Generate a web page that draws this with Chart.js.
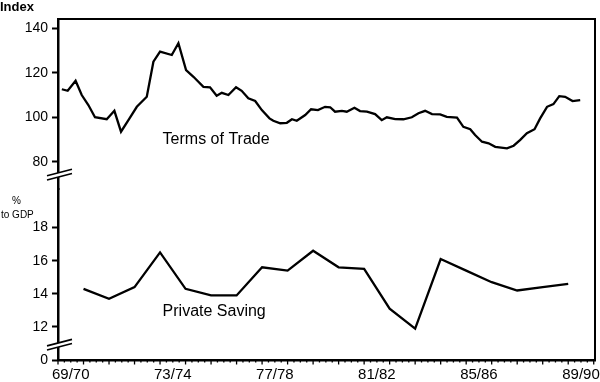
<!DOCTYPE html>
<html><head><meta charset="utf-8">
<script src="https://cdn.jsdelivr.net/npm/chart.js@4/dist/chart.umd.min.js"></script>
<style>html,body{margin:0;padding:0;background:#fff}canvas{display:block}</style>
</head><body>
<canvas id="c" width="600" height="382"></canvas>
<script>
// Terms of Trade (index), quarterly, decimal-year positions
const totDates = [1969.65,1969.88,1970.19,1970.43,1970.69,1970.95,1971.41,1971.71,1971.97,1972.26,
  1972.59,1972.98,1973.24,1973.50,1973.96,1974.22,1974.52,1974.81,1975.20,1975.46,
  1975.72,1975.92,1976.18,1976.48,1976.70,1976.96,1977.23,1977.49,1977.79,1977.94,
  1978.21,1978.47,1978.67,1978.86,1979.19,1979.42,1979.69,1979.97,1980.17,1980.36,
  1980.63,1980.82,1981.12,1981.34,1981.61,1981.93,1982.19,1982.39,1982.72,1983.04,
  1983.37,1983.63,1983.89,1984.16,1984.48,1984.74,1985.14,1985.39,1985.66,1985.85,
  1986.12,1986.38,1986.64,1987.10,1987.36,1987.62,1987.88,1988.18,1988.40,1988.67,
  1988.92,1989.15,1989.38,1989.67,1989.97];
const totValues = [112.6,111.9,116.4,110,105.5,100,99.1,102.9,93.5,98.7,
  104.7,109.2,125,129.5,128,133.3,121.2,118.2,113.7,113.5,
  109.7,111,110,113.5,111.9,108.5,107.3,103.2,99.5,98.4,
  97.3,97.5,99.1,98.4,101,103.6,103.2,104.7,104.5,102.5,
  102.9,102.5,104.3,102.8,102.5,101.4,98.7,100,99.2,99.1,
  100,101.8,102.9,101.4,101.3,100.2,99.8,95.7,94.6,92,
  89,88.3,86.7,86,87.2,89.8,92.8,94.6,99.5,104.7,
  105.9,109.5,109.2,107.3,107.7];

// Private Saving (% to GDP), annual
const savingDates = [1970.5,1971.5,1972.5,1973.5,1974.5,1975.5,1976.5,1977.5,1978.5,1979.5,
  1980.5,1981.5,1982.5,1983.5,1984.5,1985.5,1986.5,1987.5,1988.5,1989.5];
const savingValues = [14.3,13.7,14.4,16.5,14.3,13.9,13.9,15.6,15.4,16.6,
  15.6,15.5,13.1,11.9,16.1,15.4,14.7,14.2,14.4,14.6];

// Axis ticks
const xTickValues = [1970,1974,1978,1982,1986,1990];
const xTickLabels = ['69/70','73/74','77/78','81/82','85/86','89/90'];
const indexTicks = [80,100,120,140];
const savingTicks = [10,12,14,16,18];
const savingTickLabels = ['0','12','14','16','18'];

const FONT = "'Liberation Sans', Arial, sans-serif";

const decor = {
  id: 'decor',
  afterDraw(chart) {
    const {ctx, chartArea: a, scales} = chart;
    const xs = scales.x;
    ctx.save();
    ctx.strokeStyle = '#000';
    ctx.lineCap = 'butt';
    // frame top and right
    ctx.lineWidth = 2;
    ctx.beginPath();
    ctx.moveTo(a.left, a.top); ctx.lineTo(a.right, a.top); ctx.lineTo(a.right, a.bottom + 1);
    ctx.stroke();
    // quarterly and yearly tick marks on the time axis
    ctx.lineWidth = 1.3;
    for (let q = 0; ; q++) {
      const v = xs.min + q * 0.25;
      if (v > xs.max + 1e-6) break;
      const px = xs.getPixelForValue(v);
      const len = (q % 4 === 0) ? 4.5 : 2.5;
      ctx.beginPath(); ctx.moveTo(px, a.bottom); ctx.lineTo(px, a.bottom + len); ctx.stroke();
    }
    // axis break marks
    const brk = (y0) => {
      const x = a.left, s = -0.26;
      const p = (X, off) => [X, y0 + off + s * (X - x)];
      ctx.fillStyle = '#fff';
      ctx.beginPath();
      ctx.moveTo(...p(x - 11, -2.1)); ctx.lineTo(...p(x + 14, -2.1));
      ctx.lineTo(...p(x + 14, 2.1)); ctx.lineTo(...p(x - 11, 2.1));
      ctx.closePath(); ctx.fill();
      ctx.lineWidth = 1.6;
      ctx.beginPath();
      ctx.moveTo(...p(x - 11, -2.1)); ctx.lineTo(...p(x + 14, -2.1));
      ctx.moveTo(...p(x - 11, 2.1)); ctx.lineTo(...p(x + 14, 2.1));
      ctx.stroke();
    };
    brk(scales.yTop.getPixelForValue(74));
    brk(scales.yBot.getPixelForValue(10.9));
    // texts
    ctx.fillStyle = '#000';
    ctx.textAlign = 'left';
    ctx.textBaseline = 'alphabetic';
    ctx.font = "bold 13px " + FONT;
    ctx.fillText('Index', 0, 11);
    ctx.font = "10px " + FONT;
    ctx.fillText('%', 12, 204);
    ctx.fillText('to GDP', 1, 218);
    ctx.font = "16px " + FONT;
    ctx.textBaseline = 'middle';
    ctx.fillText('Terms of Trade', xs.getPixelForValue(1973.6), scales.yTop.getPixelForValue(89.8));
    ctx.fillText('Private Saving', xs.getPixelForValue(1973.6), scales.yBot.getPixelForValue(12.9));
    ctx.restore();
  }
};

const yCommon = {
  position: 'left',
  stack: 'left',
  stackWeight: 1,
  grid: {drawOnChartArea: false, drawTicks: true, tickLength: 6, tickWidth: 2, tickColor: '#000'},
  border: {display: true, color: '#000', width: 2.5},
  afterFit: s => { s.width = 58; }
};

new Chart(document.getElementById('c'), {
  type: 'line',
  data: {
    datasets: [
      {label: 'Terms of Trade', yAxisID: 'yTop', data: totDates.map((d, i) => ({x: d, y: totValues[i]})),
       borderColor: '#000', borderWidth: 2.3, pointRadius: 0, tension: 0, fill: false},
      {label: 'Private Saving', yAxisID: 'yBot', data: savingDates.map((d, i) => ({x: d, y: savingValues[i]})),
       borderColor: '#000', borderWidth: 2.3, pointRadius: 0, tension: 0, fill: false}
    ]
  },
  options: {
    responsive: false,
    animation: false,
    events: [],
    layout: {padding: {left: 0, top: 19, right: 5, bottom: 0}},
    plugins: {legend: {display: false}, tooltip: {enabled: false}},
    scales: {
      x: {
        type: 'linear', min: 1969.5, max: 1990.55,
        grid: {display: false, drawTicks: false},
        border: {display: true, color: '#000', width: 2.5},
        afterBuildTicks: s => { s.ticks = xTickValues.map(v => ({value: v})); },
        ticks: {
          color: '#000', font: {family: FONT, size: 15}, padding: 6, maxRotation: 0, autoSkip: false,
          callback: (v, i) => xTickLabels[i]
        },
        afterFit: s => { s.height = 22; s.paddingLeft = 0; s.paddingRight = 0; }
      },
      yBot: Object.assign({}, yCommon, {
        min: 10, max: 20.3,
        afterBuildTicks: s => { s.ticks = savingTicks.map(v => ({value: v})); },
        ticks: {color: '#000', font: {family: FONT, size: 14}, padding: 4, autoSkip: false,
          callback: (v, i) => savingTickLabels[i]}
      }),
      yTop: Object.assign({}, yCommon, {
        min: 67.5, max: 144.2,
        afterBuildTicks: s => { s.ticks = indexTicks.map(v => ({value: v})); },
        ticks: {color: '#000', font: {family: FONT, size: 14}, padding: 4, autoSkip: false}
      })
    }
  },
  plugins: [decor]
});
</script>
</body></html>
